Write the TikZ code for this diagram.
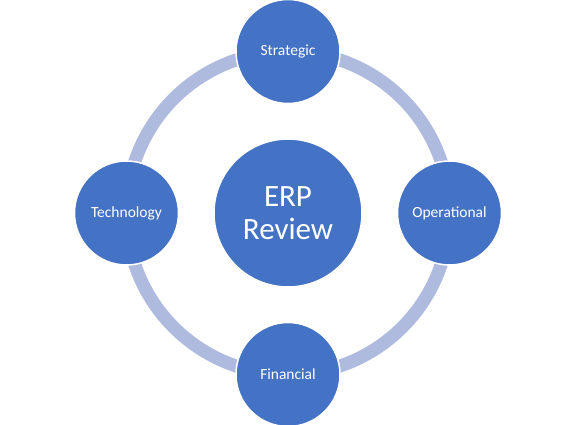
\documentclass[tikz,border=0pt]{standalone}
\usepackage{xcolor}
\usepackage{fontspec}
\setmainfont{Carlito}
\usepackage{tikz}
\usetikzlibrary{positioning, backgrounds}

\definecolor{erpblue}{HTML}{4472C4}
\definecolor{ringblue}{HTML}{AFBADF}

\begin{document}
\begin{tikzpicture}[
    x=1pt, y=1pt,
    node distance=34pt,
    hub/.style={circle, draw=white, line width=1.5pt, fill=erpblue, text=white, minimum size=148pt, inner sep=0pt, align=center, font=\fontsize{31}{33}\selectfont},
    spoke/.style={circle, draw=white, line width=1.5pt, fill=erpblue, text=white, minimum size=104pt, inner sep=0pt, font=\fontsize{15.5}{17}\selectfont},
    ring/.style={draw=ringblue, line width=13pt}
]
\useasboundingbox (0,0) rectangle (576,-425);
\node[hub] (erp) at (288,-213) {ERP\\Review};
\node[spoke, above=of erp] (strategic) {Strategic};
\node[spoke, right=of erp] (operational) {Operational};
\node[spoke, below=of erp] (financial) {Financial};
\node[spoke, left=of erp] (technology) {Technology};
\begin{scope}[on background layer]
\draw[ring] (strategic.center) to[out=0, in=90] (operational.center);
\draw[ring] (operational.center) to[out=-90, in=0] (financial.center);
\draw[ring] (financial.center) to[out=180, in=-90] (technology.center);
\draw[ring] (technology.center) to[out=90, in=180] (strategic.center);
\end{scope}
\end{tikzpicture}
\end{document}
